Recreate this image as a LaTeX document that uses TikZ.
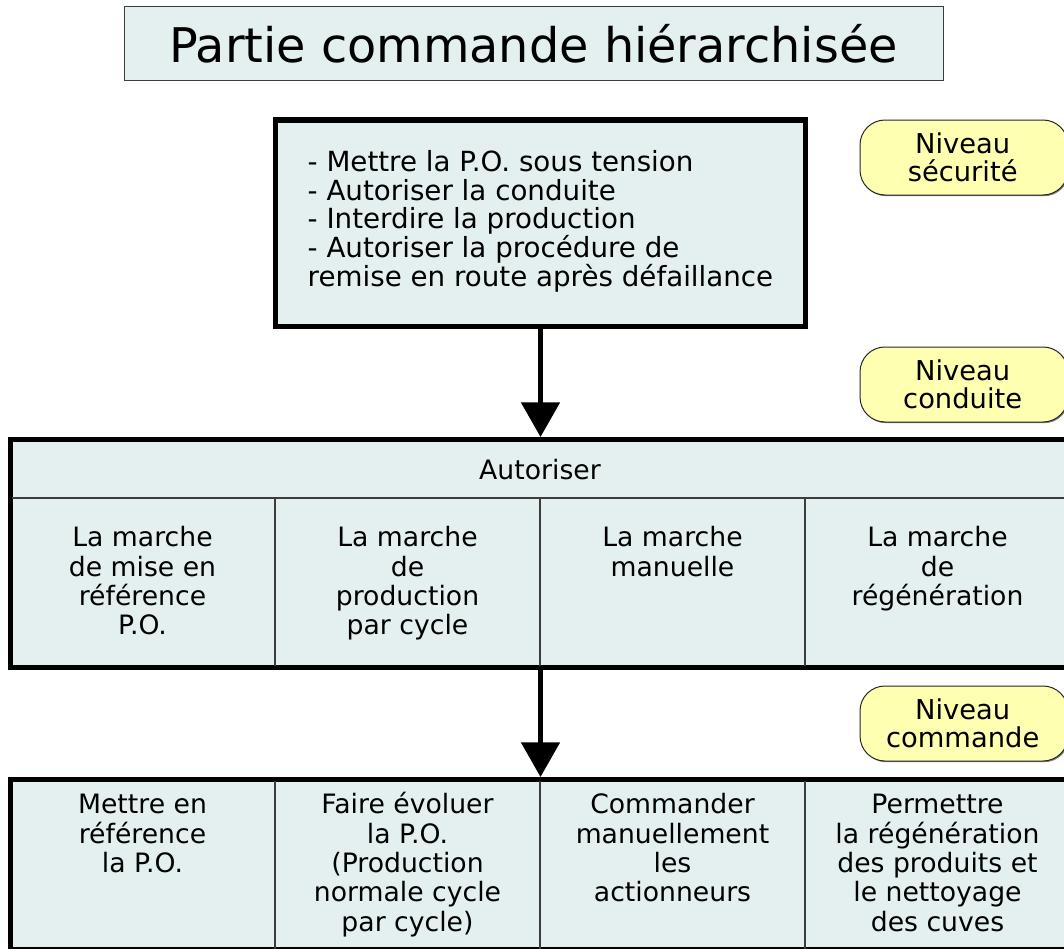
\documentclass[tikz,border=0pt]{standalone}
\usepackage{fontspec}
\setmainfont{DejaVu Sans}
\usetikzlibrary{fit,arrows.meta,shadows}
\definecolor{panel}{RGB}{228,240,240}
\definecolor{tag}{RGB}{255,255,178}
\definecolor{rulegray}{RGB}{60,60,60}
\newcommand\capstrut{\rule{0pt}{17pt}}
\begin{document}
\begin{tikzpicture}[x=0.75pt,y=-0.75pt,
  bodyfont/.style={font=\fontsize{20pt}{22pt}\selectfont},
  titlebox/.style={draw=rulegray, line width=0.75pt, fill=panel, inner sep=0pt},
  heavybox/.style={draw=black, line width=3.75pt, fill=panel, inner sep=0pt},
  tagbox/.style={draw=black!85, line width=0.75pt, fill=tag, rounded corners=18.75pt,
    inner sep=0pt,
    drop shadow={shadow xshift=0.9pt, shadow yshift=-0.9pt, fill=black!50, opacity=1}},
  tagtext/.style={align=center, inner sep=0pt, font=\fontsize{20.5pt}{21pt}\selectfont},
  divider/.style={draw=rulegray, line width=1.1pt},
  cell/.style={anchor=north, align=center, inner sep=0pt, bodyfont},
  flow/.style={line width=3.75pt, -{Triangle[width=28.5pt,length=26pt]}}
]
\useasboundingbox (0,0) rectangle (1064,949);
\clip (0,0) rectangle (1064,949);

% title
\node[titlebox, fit={(124,7) (943,81)}] (title) {};
\node[inner sep=0pt, font=\fontsize{35.8pt}{40pt}\selectfont] (titletext)
  at (title.center) {Partie commande hiérarchisée};

% safety level box
\node[heavybox, fit={(275.5,120) (805.5,326.5)}] (safety) {};
\node[align=left, inner sep=0pt, font=\fontsize{20.8pt}{21.5pt}\selectfont]
  (safetytext) at ([yshift=1.5pt]safety.center)
  {- Mettre la P.O. sous tension\\
   - Autoriser la conduite\\
   - Interdire la production\\
   - Autoriser la procédure de\\
   remise en route après défaillance};

% level tags
\node[tagbox, fit={(860,120) (1068,195)}] (tagS) {};
\node[tagtext] at ([xshift=-1pt]tagS.center) {Niveau\\sécurité};
\node[tagbox, fit={(860,347) (1068,422)}] (tagC) {};
\node[tagtext] at ([xshift=-1pt]tagC.center) {Niveau\\conduite};
\node[tagbox, fit={(860,686) (1068,761)}] (tagM) {};
\node[tagtext] at ([xshift=-1pt]tagM.center) {Niveau\\commande};

% driving level table
\node[heavybox, fit={(10.5,439.5) (1075,667.5)}] (drive) {};
\draw[divider] (12.4,498) -- (1075,498);
\foreach \x in {275,540,805}
  \draw[divider] (\x,498) -- (\x,665.6);
\node[bodyfont] (drivehead) at (540,470) {Autoriser};
\node[cell] (d1) at (142.5,524) {\capstrut La marche\\de mise en\\référence\\P.O.};
\node[cell] (d2) at (407.5,524) {\capstrut La marche\\de\\production\\par cycle};
\node[cell] (d3) at (672.5,524) {\capstrut La marche\\manuelle};
\node[cell] (d4) at (937.5,524) {\capstrut La marche\\de\\régénération};

% command level table
\node[heavybox, fit={(10.5,779.5) (1075,949.5)}] (cmd) {};
\foreach \x in {275,540,805}
  \draw[divider] (\x,781.4) -- (\x,949);
\node[cell] (c1) at (142.5,791) {\capstrut Mettre en\\référence\\la P.O.};
\node[cell] (c2) at (407.5,791) {\capstrut Faire évoluer\\la P.O.\\(Production\\normale cycle\\par cycle)};
\node[cell] (c3) at (672.5,791) {\capstrut Commander\\manuellement\\les\\actionneurs};
\node[cell] (c4) at (937.5,791) {\capstrut Permettre\\la régénération\\des produits et\\le nettoyage\\des cuves};

% flow between levels
\draw[flow] (safety.south) -- (safety.south |- drive.north);
\draw[flow] (safety.south |- drive.south) -- (safety.south |- cmd.north);
\end{tikzpicture}
\end{document}
